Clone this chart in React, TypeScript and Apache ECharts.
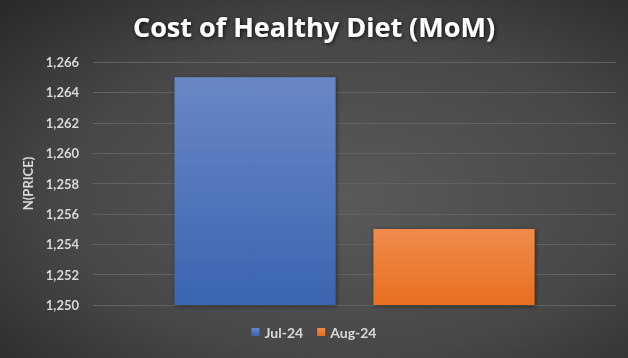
import React, { useEffect, useRef } from "react";
import * as echarts from "echarts";

const titleText = "Cost of Healthy Diet (MoM)";
const categories = [""];
const seriesNames = ["Jul-24", "Aug-24"];
const julValues = [1265];
const augValues = [1255];
const yTicks = { min: 1250, max: 1266, interval: 2 };
const yAxisName = "N(PRICE)";

export default function App() {
  const ref = useRef<HTMLDivElement>(null);
  useEffect(() => {
    if (!ref.current) return;
    const chart = echarts.init(ref.current, undefined, { renderer: "svg" });
    const labelColor = "#d9d9d9";
    const font = "Lato, 'Open Sans', sans-serif";
    chart.setOption({
      animation: false,
      backgroundColor: {
        type: "radial",
        x: 0.55,
        y: 0.55,
        r: 0.75,
        colorStops: [
          { offset: 0, color: "#5a5a5a" },
          { offset: 0.6, color: "#474747" },
          { offset: 1, color: "#2b2b2b" },
        ],
      },
      title: {
        text: titleText,
        left: "center",
        top: 8,
        textStyle: {
          color: "#ffffff",
          fontSize: 27,
          fontWeight: "bold",
          fontFamily: "'Open Sans', sans-serif",
          textShadowColor: "rgba(0,0,0,0.8)",
          textShadowBlur: 4,
          textShadowOffsetX: 1,
          textShadowOffsetY: 1,
        },
      },
      legend: {
        bottom: 14,
        left: "center",
        icon: "rect",
        itemWidth: 8,
        itemHeight: 8,
        itemGap: 14,
        data: seriesNames,
        textStyle: { color: labelColor, fontSize: 14, fontWeight: "bold", fontFamily: font },
      },
      grid: { left: 93, right: 12, top: 62, bottom: 53, containLabel: false },
      xAxis: {
        type: "category",
        data: categories,
        axisLine: { show: false },
        axisTick: { show: false },
        axisLabel: { show: false },
      },
      yAxis: {
        type: "value",
        min: yTicks.min,
        max: yTicks.max,
        interval: yTicks.interval,
        name: yAxisName,
        nameLocation: "middle",
        nameRotate: 90,
        nameGap: 58,
        nameTextStyle: { color: labelColor, fontSize: 13, fontWeight: "bold", fontFamily: font },
        axisLine: { show: false },
        axisTick: { show: false },
        axisLabel: {
          color: labelColor,
          fontSize: 13,
          fontWeight: "bold",
          fontFamily: font,
          margin: 14,
          formatter: (v: number) => v.toLocaleString("en-US"),
        },
        splitLine: { lineStyle: { color: "#626262", width: 1 } },
      },
      series: [
        {
          name: seriesNames[0],
          type: "bar",
          data: julValues,
          barWidth: 161,
          barGap: "23.6%",
          itemStyle: {
            color: new echarts.graphic.LinearGradient(0, 0, 0, 1, [
              { offset: 0, color: "#6987c6" },
              { offset: 1, color: "#3a65b0" },
            ]),
            shadowColor: "rgba(0,0,0,0.5)",
            shadowBlur: 4,
            shadowOffsetX: 1,
            shadowOffsetY: 1,
          },
        },
        {
          name: seriesNames[1],
          type: "bar",
          data: augValues,
          barWidth: 161,
          itemStyle: {
            color: new echarts.graphic.LinearGradient(0, 0, 0, 1, [
              { offset: 0, color: "#f08b4c" },
              { offset: 1, color: "#e86f1f" },
            ]),
            shadowColor: "rgba(0,0,0,0.5)",
            shadowBlur: 4,
            shadowOffsetX: 1,
            shadowOffsetY: 1,
          },
        },
      ],
    });
    return () => chart.dispose();
  }, []);
  return (
    <div
      ref={ref}
      style={{ position: "fixed", left: 0, top: 0, width: 628, height: 358 }}
    />
  );
}
